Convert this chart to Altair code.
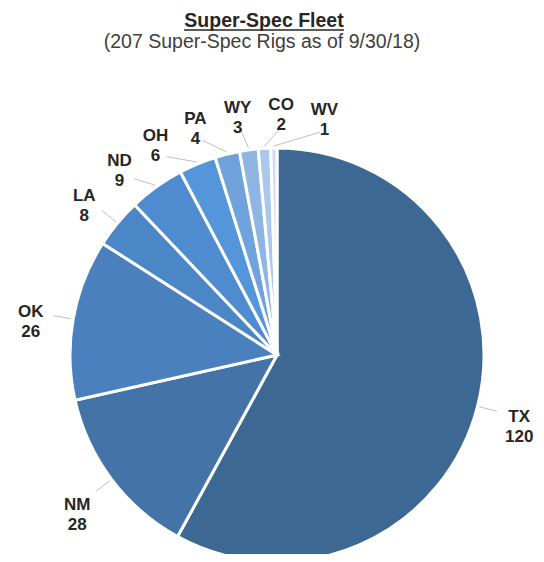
import altair as alt
import numpy as np
import pandas as pd

# ---- data ----
states = ["TX", "NM", "OK", "LA", "ND", "OH", "PA", "WY", "CO", "WV"]
rigs = [120, 28, 26, 8, 9, 6, 4, 3, 2, 1]
colors = ["#3D6893", "#4373A7", "#4A80BE", "#4B86C6", "#4F8CCF",
          "#5596DA", "#70A3DC", "#8FB6E2", "#AAC8EB", "#CCDEF3"]
title_text = "Super-Spec Fleet"
subtitle_text = "(207 Super-Spec Rigs as of 9/30/18)"

# ---- layout constants ----
CX, CY = 269, 347      # pie centre inside the plot area
R = 207                # pie radius
LABEL_R = 250          # label radius
MIN_SEP = 10.0         # minimum angular separation of labels (deg)

vals = np.array(rigs, dtype=float)
total = vals.sum()
cum = np.cumsum(vals)
mid_deg = (cum - vals / 2) / total * 360.0

# simple label de-overlap: push neighbouring labels apart
lab = mid_deg.copy()
for _ in range(500):
    moved = False
    for i in range(len(lab) - 1):
        gap = lab[i + 1] - lab[i]
        if gap < MIN_SEP - 1e-6:
            push = (MIN_SEP - gap) / 2
            lab[i] -= push
            lab[i + 1] += push
            moved = True
    if not moved:
        break

df = pd.DataFrame({
    "state": states,
    "rigs": rigs,
    "idx": list(range(len(states))),
    "label": [f"{s}\n{v}" for s, v in zip(states, rigs)],
    "mid_deg": mid_deg,
    "lab_deg": lab,
})

base = alt.Chart(df)

pie = base.mark_arc(outerRadius=R, stroke="white", strokeWidth=3).encode(
    theta=alt.Theta("rigs:Q", stack=True),
    order=alt.Order("idx:Q"),
    color=alt.Color("state:N", scale=alt.Scale(domain=states, range=colors), legend=None),
    x=alt.value(CX),
    y=alt.value(CY),
)

lines = base.transform_calculate(
    x1=f"{CX} + {R + 2} * sin(datum.mid_deg * PI / 180)",
    y1=f"{CY} - {R + 2} * cos(datum.mid_deg * PI / 180)",
    x2=f"{CX} + 227 * sin(datum.lab_deg * PI / 180)",
    y2=f"{CY} - 227 * cos(datum.lab_deg * PI / 180)",
).mark_rule(color="#BFBFBF", strokeWidth=1).encode(
    x=alt.X("x1:Q", scale=None),
    y=alt.Y("y1:Q", scale=None),
    x2="x2:Q",
    y2="y2:Q",
)

labels = base.mark_text(
    font="Liberation Sans", fontSize=17, fontWeight="bold", color="#262626",
    lineBreak="\n", lineHeight=20, align="center", baseline="middle",
).encode(
    theta=alt.Theta("lab_deg:Q", stack=False,
                    scale=alt.Scale(domain=[0, 360], range=[0, 2 * np.pi])),
    radius=alt.value(LABEL_R),
    text="label:N",
    x=alt.value(CX),
    y=alt.value(CY),
)

title = alt.Chart(pd.DataFrame({"t": [title_text]})).mark_text(
    font="Liberation Sans", fontSize=19.5, fontWeight="bold", color="#262626",
    align="center", baseline="alphabetic",
).encode(text="t:N", x=alt.value(256), y=alt.value(19))

underline = alt.Chart(pd.DataFrame({"t": [title_text]})).mark_rule(
    color="#262626", strokeWidth=1.5
).encode(x=alt.value(176), x2=alt.value(336), y=alt.value(22))

subtitle = alt.Chart(pd.DataFrame({"t": [subtitle_text]})).mark_text(
    font="Liberation Sans", fontSize=19.5, color="#404040",
    align="center", baseline="alphabetic",
).encode(text="t:N", x=alt.value(254), y=alt.value(40))

chart = alt.layer(pie, lines, labels, title, underline, subtitle).resolve_scale(
    theta="independent"
).properties(
    width=528, height=546, padding=0, autosize="none"
).configure_view(stroke=None)

chart.save("out.html", embed_options={"renderer": "svg", "actions": False})
